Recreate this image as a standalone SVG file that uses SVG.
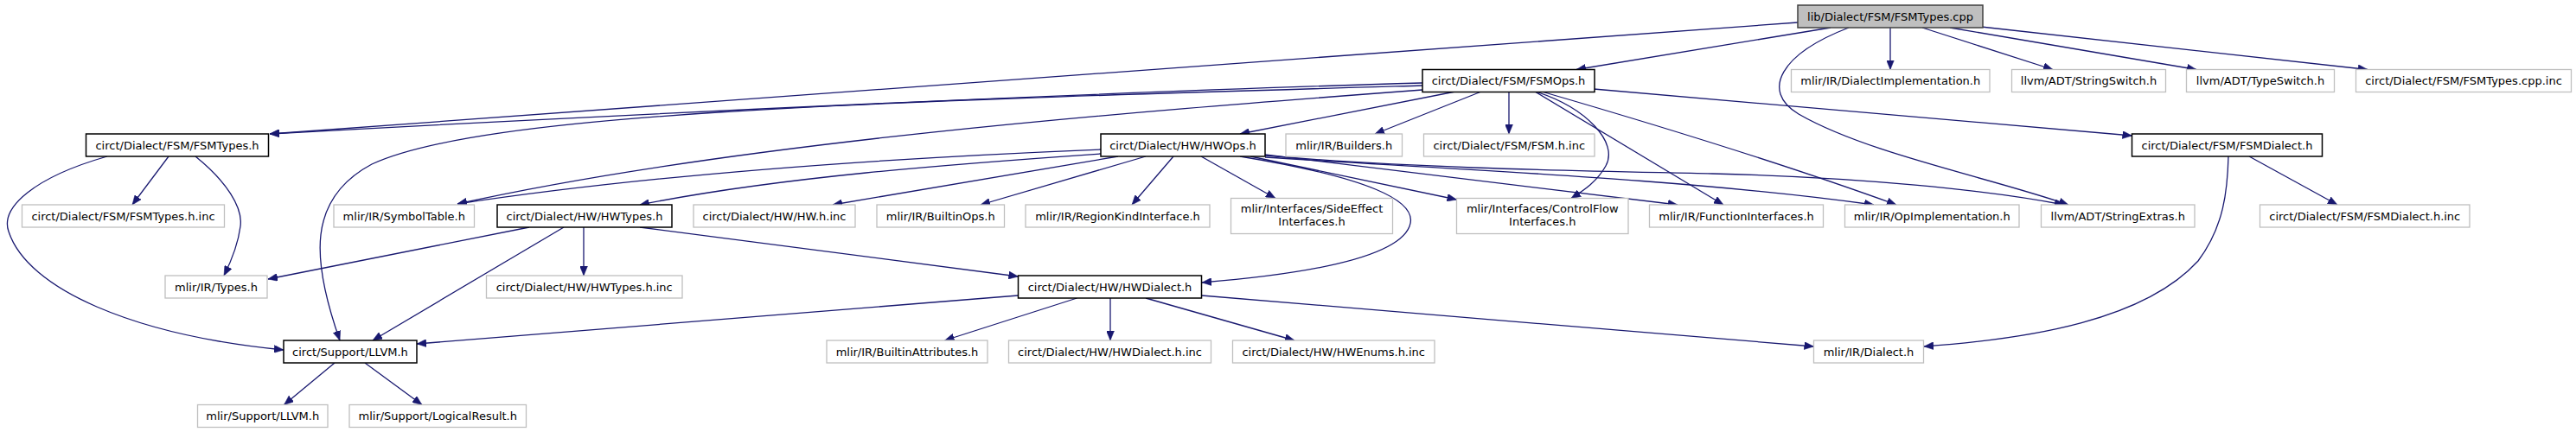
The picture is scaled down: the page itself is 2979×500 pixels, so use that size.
<svg xmlns="http://www.w3.org/2000/svg" width="2979" height="500" viewBox="0 0 2979 500">
<style>
.n rect{fill:#fff;stroke:#bfbfbf;stroke-width:1.3}
.n.k rect{stroke:#000;stroke-width:1.5}
.n.r rect{fill:#bfbfbf;stroke:#404040;stroke-width:1.5}
.n text{font-family:"DejaVu Sans","Noto Sans",sans-serif;font-size:13px;text-anchor:middle;fill:#000}
#edges path{fill:none;stroke:#191970;stroke-width:1.3;marker-end:url(#a)}
</style>
<defs>
<marker id="a" viewBox="0 0 11 9" refX="11" refY="4.5" markerWidth="11" markerHeight="9" markerUnits="userSpaceOnUse" orient="auto">
<path d="M0,0 L11,4.5 L0,9 z" fill="#191970" stroke="#191970" stroke-width="0.5"/>
</marker>
</defs>
<rect width="2979" height="500" fill="#fff"/>
<g id="edges">
<!-- cpp -->
<path d="M2079,26 L312,155"/>
<path d="M2117,32 L1823,80.5"/>
<path d="M2186,32 L2186,80.5"/>
<path d="M2223,32 L2374,80.5"/>
<path d="M2255,32 L2540,80.5"/>
<path d="M2291,31 L2738,80.5"/>
<path d="M2138,32 C2060,62 2035,105 2080,132 C2160,178 2300,205 2392,237"/>
<!-- FSMOps -->
<path d="M1645,96 C1300,106 800,128 312,155"/>
<path d="M1645,99 C1000,118 560,130 430,190 C355,230 360,300 393,394"/>
<path d="M1645,104 C1300,130 850,165 529,236"/>
<path d="M1683,106 L1434,155"/>
<path d="M1713,106 L1590,155"/>
<path d="M1745,106 L1745,155"/>
<path d="M1776,106 C1835,125 1872,165 1857,192 C1847,210 1832,220 1817,229.5"/>
<path d="M1775,106 L1993,237"/>
<path d="M1783,106 C1900,140 2050,185 2193,237"/>
<path d="M1843,103 L2465.5,157"/>
<!-- HWOps -->
<path d="M1273,173 C1100,180 800,195 529,236"/>
<path d="M1273,178 C1100,190 900,205 740,237"/>
<path d="M1293,181 L963,237"/>
<path d="M1325,181 L1134,237"/>
<path d="M1357,181 L1309,237"/>
<path d="M1389,181 L1475,229.5"/>
<path d="M1446,181 L1684.5,231"/>
<path d="M1463,179 L1940,237"/>
<path d="M1463,182 C1700,197 1960,208 2167,237"/>
<path d="M1463,180 C1650,196 1850,198 1980,201 C2150,205 2300,220 2387,237"/>
<path d="M1434,181 C1580,205 1642,232 1630,262 C1615,300 1500,318 1390,327"/>
<!-- FSMDialect -->
<path d="M2601,181 L2703,237"/>
<path d="M2577,181 C2576,220 2572,262 2542,302 C2480,370 2350,392 2225,401"/>
<!-- FSMTypes -->
<path d="M195,181 L153,237"/>
<path d="M226,181 C262,210 281,240 278,262 C275,285 266,305 259,319"/>
<path d="M124,181 C40,205 0,240 10,268 C32,335 155,388 328,405"/>
<!-- HWTypes -->
<path d="M612,263 L310,323"/>
<path d="M652,263 L431,394"/>
<path d="M675,263 L675,319"/>
<path d="M740,263 L1177.5,320"/>
<!-- HWDialect -->
<path d="M1177.5,342 L482,398"/>
<path d="M1245.5,345 L1092.5,394"/>
<path d="M1284,345 L1284,394"/>
<path d="M1325,345 L1497,394"/>
<path d="M1389.5,342 L2097.5,401"/>
<!-- LLVM -->
<path d="M387,420 L328.5,468.5"/>
<path d="M422,420 L488,468.5"/>
</g>
<g id="n_cpp" class="n r"><rect x="2079" y="6" width="214" height="26"/><text x="2186" y="23.5">lib/Dialect/FSM/FSMTypes.cpp</text></g>
<g id="n_fsmops" class="n k"><rect x="1645" y="80.5" width="199" height="26"/><text x="1744.5" y="98">circt/Dialect/FSM/FSMOps.h</text></g>
<g id="n_dialimpl" class="n"><rect x="2071.5" y="80.5" width="229.5" height="26"/><text x="2186.25" y="98">mlir/IR/DialectImplementation.h</text></g>
<g id="n_strswitch" class="n"><rect x="2326.5" y="80.5" width="178" height="26"/><text x="2415.5" y="98">llvm/ADT/StringSwitch.h</text></g>
<g id="n_typeswitch" class="n"><rect x="2528.5" y="80.5" width="171" height="26"/><text x="2614" y="98">llvm/ADT/TypeSwitch.h</text></g>
<g id="n_cppinc" class="n"><rect x="2724.5" y="80.5" width="249" height="26"/><text x="2849" y="98">circt/Dialect/FSM/FSMTypes.cpp.inc</text></g>
<g id="n_fsmtypes" class="n k"><rect x="99.5" y="155" width="211" height="26"/><text x="205" y="172.5">circt/Dialect/FSM/FSMTypes.h</text></g>
<g id="n_hwops" class="n k"><rect x="1273" y="155" width="190" height="26"/><text x="1368" y="172.5">circt/Dialect/HW/HWOps.h</text></g>
<g id="n_builders" class="n"><rect x="1487" y="155" width="134.5" height="26"/><text x="1554.25" y="172.5">mlir/IR/Builders.h</text></g>
<g id="n_fsmhinc" class="n"><rect x="1646.5" y="155" width="197.5" height="26"/><text x="1745.25" y="172.5">circt/Dialect/FSM/FSM.h.inc</text></g>
<g id="n_fsmdialect" class="n k"><rect x="2465.5" y="155" width="220" height="26"/><text x="2575.5" y="172.5">circt/Dialect/FSM/FSMDialect.h</text></g>
<g id="n_fsmtypesinc" class="n"><rect x="25.5" y="237" width="234" height="26"/><text x="142.5" y="254.5">circt/Dialect/FSM/FSMTypes.h.inc</text></g>
<g id="n_symtab" class="n"><rect x="386" y="237" width="162.5" height="26"/><text x="467.25" y="254.5">mlir/IR/SymbolTable.h</text></g>
<g id="n_hwtypes" class="n k"><rect x="575" y="237" width="202" height="26"/><text x="676" y="254.5">circt/Dialect/HW/HWTypes.h</text></g>
<g id="n_hwhinc" class="n"><rect x="802" y="237" width="187" height="26"/><text x="895.5" y="254.5">circt/Dialect/HW/HW.h.inc</text></g>
<g id="n_builtinops" class="n"><rect x="1014" y="237" width="147.5" height="26"/><text x="1087.75" y="254.5">mlir/IR/BuiltinOps.h</text></g>
<g id="n_regionkind" class="n"><rect x="1186" y="237" width="213" height="26"/><text x="1292.5" y="254.5">mlir/IR/RegionKindInterface.h</text></g>
<g id="n_sideeffect" class="n"><rect x="1423.5" y="229.5" width="187" height="41"/><text x="1517" y="245.5">mlir/Interfaces/SideEffect</text><text x="1517" y="261">Interfaces.h</text></g>
<g id="n_controlflow" class="n"><rect x="1684.5" y="229.5" width="198.5" height="41"/><text x="1783.75" y="245.5">mlir/Interfaces/ControlFlow</text><text x="1783.75" y="261">Interfaces.h</text></g>
<g id="n_funcif" class="n"><rect x="1907.5" y="237" width="201" height="26"/><text x="2008" y="254.5">mlir/IR/FunctionInterfaces.h</text></g>
<g id="n_opimpl" class="n"><rect x="2133.5" y="237" width="201.5" height="26"/><text x="2234.25" y="254.5">mlir/IR/OpImplementation.h</text></g>
<g id="n_strextras" class="n"><rect x="2360.5" y="237" width="177.5" height="26"/><text x="2449.25" y="254.5">llvm/ADT/StringExtras.h</text></g>
<g id="n_fsmdialinc" class="n"><rect x="2613.5" y="237" width="242.5" height="26"/><text x="2734.75" y="254.5">circt/Dialect/FSM/FSMDialect.h.inc</text></g>
<g id="n_types" class="n"><rect x="191" y="319" width="118" height="26"/><text x="250" y="336.5">mlir/IR/Types.h</text></g>
<g id="n_hwtypesinc" class="n"><rect x="562.5" y="319" width="226.5" height="26"/><text x="675.75" y="336.5">circt/Dialect/HW/HWTypes.h.inc</text></g>
<g id="n_hwdialect" class="n k"><rect x="1177.5" y="319" width="212" height="26"/><text x="1283.5" y="336.5">circt/Dialect/HW/HWDialect.h</text></g>
<g id="n_llvm" class="n k"><rect x="328" y="394" width="154" height="26"/><text x="405" y="411.5">circt/Support/LLVM.h</text></g>
<g id="n_builtinattr" class="n"><rect x="956" y="394" width="186" height="26"/><text x="1049" y="411.5">mlir/IR/BuiltinAttributes.h</text></g>
<g id="n_hwdialinc" class="n"><rect x="1166.5" y="394" width="234" height="26"/><text x="1283.5" y="411.5">circt/Dialect/HW/HWDialect.h.inc</text></g>
<g id="n_hwenums" class="n"><rect x="1425.5" y="394" width="233.5" height="26"/><text x="1542.25" y="411.5">circt/Dialect/HW/HWEnums.h.inc</text></g>
<g id="n_dialect" class="n"><rect x="2097.5" y="394" width="127" height="26"/><text x="2161" y="411.5">mlir/IR/Dialect.h</text></g>
<g id="n_mlirllvm" class="n"><rect x="228.5" y="468.5" width="150.5" height="26"/><text x="303.75" y="486">mlir/Support/LLVM.h</text></g>
<g id="n_logres" class="n"><rect x="404" y="468.5" width="204.5" height="26"/><text x="506.25" y="486">mlir/Support/LogicalResult.h</text></g>
</svg>
